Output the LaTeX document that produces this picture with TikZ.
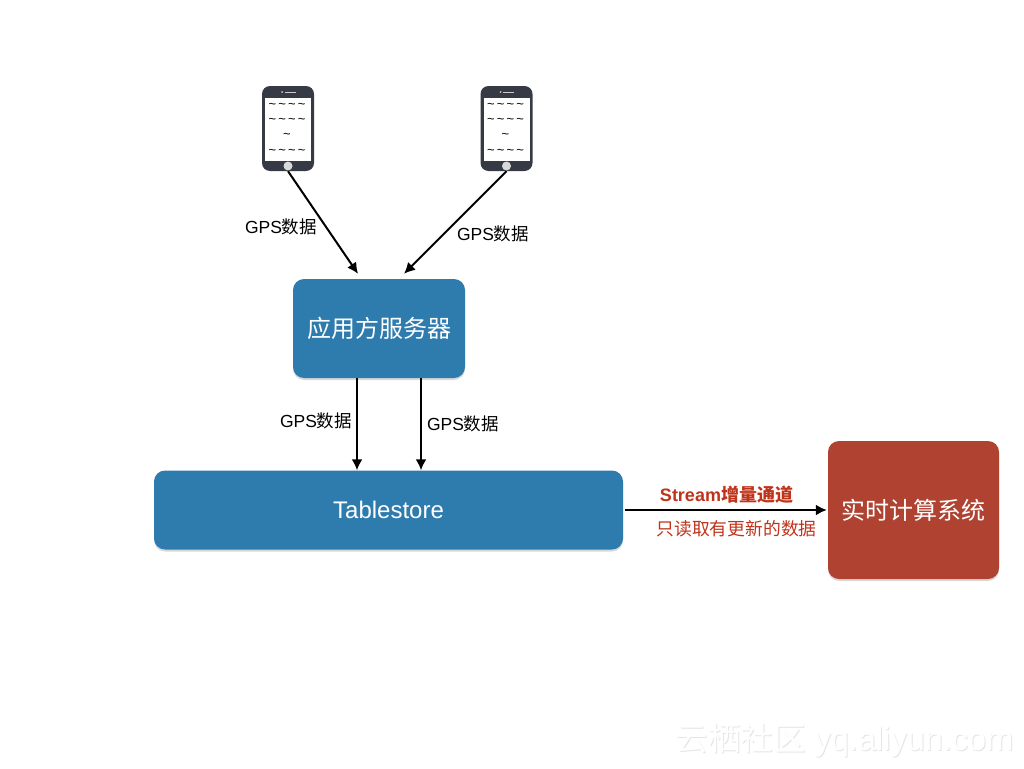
\documentclass[tikz,border=0pt]{standalone}
\usepackage{fontspec}
\usepackage{xcolor}
\usepackage{tikz}
\usetikzlibrary{arrows.meta,shadows}
\setmainfont{Liberation Sans}
\newfontfamily\cjk{Noto Sans CJK SC}
\definecolor{boxblue}{HTML}{2E7BAE}
\definecolor{boxred}{HTML}{AF4231}
\definecolor{labelred}{HTML}{C0331B}
\definecolor{phonegray}{HTML}{363A45}
\newcommand{\gpsdata}{GPS{\cjk 数据}}
\tikzset{
  server/.style={rounded corners=11pt, draw=none, text=white, font=\fontsize{24}{28}\selectfont,
    drop shadow={shadow xshift=0pt, shadow yshift=-2pt, opacity=0.3}},
  flow/.style={-{Latex[length=11pt,width=11pt]}, black, line width=2pt},
  gpslabel/.style={black, font=\fontsize{17.5}{22}\selectfont},
  tilde/.style={black, font=\fontsize{13}{13}\selectfont, inner sep=0pt}
}
\begin{document}
\begin{tikzpicture}[x=1pt,y=-1pt]
    \useasboundingbox (0,0) rectangle (1024,768);
    % phones
    \foreach \n/\px in {phoneL/288,phoneR/506.5}{
        \node[fill=phonegray, rounded corners=8pt, minimum width=52pt, minimum height=85pt, inner sep=0pt] (\n) at (\px,128.5) {};
        \node[fill=white, minimum width=46pt, minimum height=63pt, inner sep=0pt] (\n screen) at (\px,129.5) {};
        \node[fill=gray!30, circle, minimum size=9pt, inner sep=0pt] (\n home) at (\px,166) {};
        \node[fill=gray!40, circle, minimum size=2pt, inner sep=0pt] (\n cam) at (\px-6,92) {};
        \node[fill=gray!40, minimum width=11pt, minimum height=1pt, inner sep=0pt] (\n speaker) at (\px+2,92) {};
        \node[tilde] (\n a) at (\px-1,106) {\textasciitilde\,\textasciitilde\,\textasciitilde\,\textasciitilde};
        \node[tilde] (\n b) at (\px-1,121) {\textasciitilde\,\textasciitilde\,\textasciitilde\,\textasciitilde};
        \node[tilde] (\n c) at (\px-1,136) {\textasciitilde};
        \node[tilde] (\n d) at (\px-1,152) {\textasciitilde\,\textasciitilde\,\textasciitilde\,\textasciitilde};
    }
    % boxes
    \node[server, fill=boxblue, minimum width=172pt, minimum height=99pt] (app) at (379,328.5) {\cjk 应用方服务器};
    \node[server, fill=boxblue, minimum width=469pt, minimum height=79pt] (tablestore) at (388.5,510) {Tablestore};
    \node[server, fill=boxred, minimum width=171pt, minimum height=138pt] (realtime) at (913.5,510) {\cjk 实时计算系统};
    % connectors
    \draw[flow] (phoneL.south) -- ([xshift=-21pt,yshift=5pt]app.north);
    \draw[flow] (phoneR.south) -- ([xshift=25pt,yshift=5pt]app.north);
    \draw[flow] ([xshift=-22pt]app.south) -- ([xshift=-31.5pt]tablestore.north);
    \draw[flow] ([xshift=42pt]app.south) -- ([xshift=32.5pt]tablestore.north);
    \draw[flow] ([xshift=2pt]tablestore.east) -- ([xshift=-1pt]realtime.west);
    % labels
    \node[gpslabel] (gpsA) at (281,227) {\gpsdata};
    \node[gpslabel] (gpsB) at (493,234) {\gpsdata};
    \node[gpslabel] (gpsC) at (316,421) {\gpsdata};
    \node[gpslabel] (gpsD) at (463,424) {\gpsdata};
    \node[text=labelred, font=\fontsize{18}{20}\selectfont\bfseries] (stream) at (726.5,495) {Stream{\cjk\bfseries 增量通道}};
    \node[text=labelred, font=\fontsize{17.8}{20}\selectfont] (readonly) at (736.5,529) {\cjk 只读取有更新的数据};
    % watermark
    \node[text=black!10, font=\fontsize{32.5}{36}\selectfont] (markshadow) at (845.5,741.5) {{\cjk 云栖社区} yq.aliyun.com};
    \node[text=white, font=\fontsize{32.5}{36}\selectfont] (mark) at (844.5,740.5) {{\cjk 云栖社区} yq.aliyun.com};
\end{tikzpicture}
\end{document}
